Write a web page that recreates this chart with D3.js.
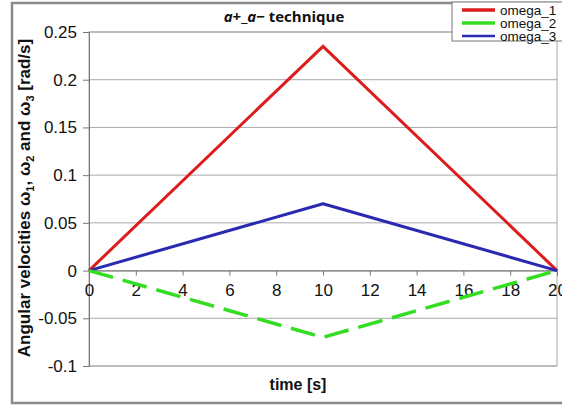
<!DOCTYPE html>
<html>
<head>
<meta charset="utf-8">
<script src="https://cdn.jsdelivr.net/npm/d3@7"></script>
<style>
  html, body { margin: 0; padding: 0; background: #fff; }
  svg { display: block; }
</style>
</head>
<body>
<svg id="chart" width="562" height="405"></svg>
<script>
// Angular velocity profiles for the a+_a- manoeuvre
const timeSteps = [0, 10, 20];
const omega1 = [0, 0.235, 0];
const omega2 = [0, -0.07, 0];
const omega3 = [0, 0.07, 0];
const seriesNames = ["omega_1", "omega_2", "omega_3"];
const xTicks = [0, 2, 4, 6, 8, 10, 12, 14, 16, 18, 20];
const yTicks = [0.25, 0.2, 0.15, 0.1, 0.05, 0, -0.05, -0.1];

const svg = d3.select("#chart");
const W = 562, H = 405;
const m = { left: 89, right: 5, top: 32, bottom: 39 };

const x = d3.scaleLinear().domain([0, 20]).range([m.left, W - m.right]);
const y = d3.scaleLinear().domain([-0.1, 0.25]).range([H - m.bottom, m.top]);

// outer frame
svg.append("rect")
  .attr("x", 12).attr("y", 3).attr("width", W).attr("height", 400)
  .attr("fill", "#fff").attr("stroke", "#8a8a8a").attr("stroke-width", 2.5);

// horizontal gridlines
svg.append("g").selectAll("line").data(yTicks).join("line")
  .attr("x1", x(0)).attr("x2", x(20))
  .attr("y1", d => y(d)).attr("y2", d => y(d))
  .attr("stroke", "#a8a8a8").attr("stroke-width", 1);

// plot area border
svg.append("rect")
  .attr("x", x(0)).attr("y", y(0.25))
  .attr("width", x(20) - x(0)).attr("height", y(-0.1) - y(0.25))
  .attr("fill", "none").attr("stroke", "#a8a8a8").attr("stroke-width", 1);

const tickFont = "'Liberation Sans', Arial, sans-serif";

// y axis (plain hyphen for negative values)
const yAxis = svg.append("g").attr("transform", `translate(${x(0)},0)`)
  .call(d3.axisLeft(y).tickValues(yTicks).tickSize(6).tickPadding(6)
    .tickFormat(d => String(+d.toFixed(2))));
yAxis.select(".domain").attr("stroke", "#777");
yAxis.selectAll(".tick line").attr("stroke", "#777");
yAxis.selectAll("text").attr("font-family", tickFont).attr("font-size", 17).attr("fill", "#111");

// x axis sits on the zero line
const xAxis = svg.append("g").attr("transform", `translate(0,${y(0)})`)
  .call(d3.axisBottom(x).tickValues(xTicks).tickSize(5).tickPadding(8));
xAxis.select(".domain").attr("stroke", "#777");
xAxis.selectAll(".tick line").attr("stroke", "#777");
xAxis.selectAll("text").attr("font-family", tickFont).attr("font-size", 17).attr("fill", "#111");

// series
const line = d3.line().x((d, i) => x(timeSteps[i])).y(d => y(d));
svg.append("path").datum(omega1).attr("d", line)
  .attr("fill", "none").attr("stroke", "#dd1c1c").attr("stroke-width", 3)
  .attr("stroke-linejoin", "miter");
svg.append("path").datum(omega3).attr("d", line)
  .attr("fill", "none").attr("stroke", "#2a2ab0").attr("stroke-width", 3)
  .attr("stroke-linejoin", "round");
svg.append("path").datum(omega2).attr("d", line)
  .attr("fill", "none").attr("stroke", "#33dd22").attr("stroke-width", 3.5)
  .attr("stroke-dasharray", "25,10");

// title
const title = svg.append("text")
  .attr("x", 284).attr("y", 22).attr("text-anchor", "middle")
  .attr("font-family", "'Open Sans', sans-serif").attr("font-weight", "bold")
  .attr("font-size", 15).attr("fill", "#111");
title.append("tspan").attr("font-style", "italic").text("a");
title.append("tspan").text("+_");
title.append("tspan").attr("font-style", "italic").text("a");
title.append("tspan").text("\u2212 technique");

// axis titles
svg.append("text")
  .attr("x", 298).attr("y", 390).attr("text-anchor", "middle")
  .attr("font-family", tickFont).attr("font-weight", "bold")
  .attr("font-size", 16).attr("fill", "#111").text("time [s]");

const yt = svg.append("text")
  .attr("transform", `translate(30,198) rotate(-90)`)
  .attr("text-anchor", "middle")
  .attr("font-family", tickFont).attr("font-weight", "bold")
  .attr("font-size", 17).attr("fill", "#111");
yt.append("tspan").text("Angular velocities  \u03c9");
yt.append("tspan").attr("font-size", 11).attr("dy", 4).text("1");
yt.append("tspan").attr("dy", -4).text(", \u03c9");
yt.append("tspan").attr("font-size", 11).attr("dy", 4).text("2");
yt.append("tspan").attr("dy", -4).text(" and \u03c9");
yt.append("tspan").attr("font-size", 11).attr("dy", 4).text("3");
yt.append("tspan").attr("dy", -4).text(" [rad/s]");

// legend
const lg = svg.append("g");
lg.append("rect").attr("x", 452).attr("y", 2).attr("width", 120).attr("height", 39)
  .attr("fill", "#fff").attr("stroke", "#777").attr("stroke-width", 1);
const legendColors = ["#dd1c1c", "#33dd22", "#2a2ab0"];
seriesNames.forEach((name, i) => {
  const ly = 10 + i * 13;
  lg.append("line").attr("x1", 462).attr("x2", 495).attr("y1", ly).attr("y2", ly)
    .attr("stroke", legendColors[i]).attr("stroke-width", i === 2 ? 2.5 : 3.5);
  lg.append("text").attr("x", 500).attr("y", ly + 5)
    .attr("font-family", tickFont).attr("font-size", 13.5).attr("fill", "#111").text(name);
});
</script>
</body>
</html>
